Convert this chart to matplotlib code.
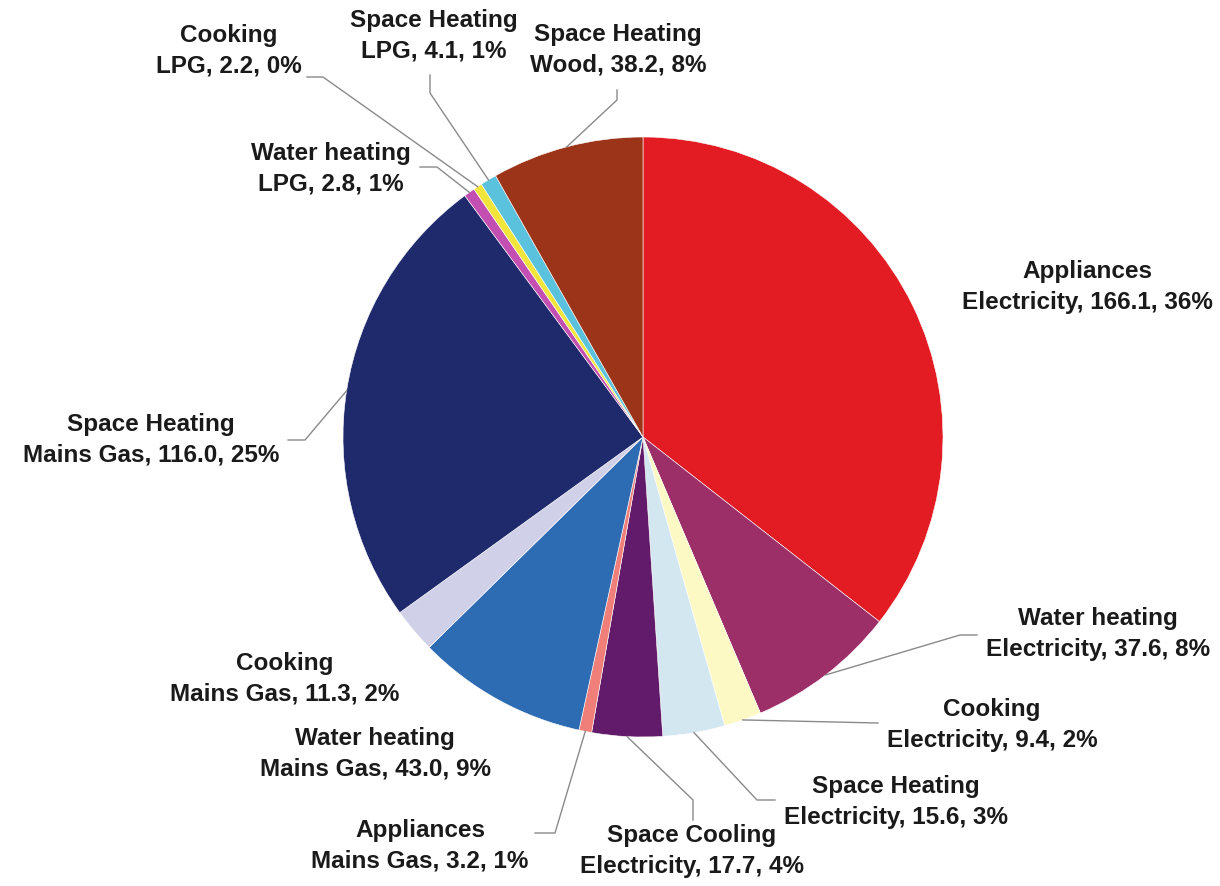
import numpy as np
import matplotlib.pyplot as plt

# end use / fuel, PJ
uses = ['Appliances', 'Water heating', 'Cooking', 'Space Heating', 'Space Cooling',
        'Appliances', 'Water heating', 'Cooking', 'Space Heating',
        'Water heating', 'Cooking', 'Space Heating', 'Space Heating']
fuels = ['Electricity', 'Electricity', 'Electricity', 'Electricity', 'Electricity',
         'Mains Gas', 'Mains Gas', 'Mains Gas', 'Mains Gas',
         'LPG', 'LPG', 'LPG', 'Wood']
values = [166.1, 37.6, 9.4, 15.6, 17.7, 3.2, 43.0, 11.3, 116.0, 2.8, 2.2, 4.1, 38.2]
colors = ['#e31b23', '#9c2f68', '#fdf9c4', '#d3e7f1', '#621b6b', '#f07f7a',
          '#2d6bb3', '#d0d0e8', '#1f2a6c', '#c24fb1', '#f1e53c', '#5bc2dd', '#9b3419']

W, H = 1220, 886
fig = plt.figure(figsize=(W / 100, H / 100), dpi=100)
ax = fig.add_axes([0, 0, 1, 1])

cx, cy, R = 643, H - 437, 300
wedges, _ = ax.pie(values, colors=colors, radius=R, center=(cx, cy), startangle=90,
                   counterclock=False, wedgeprops=dict(edgecolor='white', linewidth=0.4))
ax.set_xlim(0, W)
ax.set_ylim(0, H)
ax.set_aspect('equal')
ax.axis('off')

# label centres (pixels from top-left) and leader elbows, outer end first
label_pos = [(1087, 287), (1098, 634), (992, 725), (896, 802), (692, 851),
             (420, 846), (375, 754), (285, 679), (151, 440),
             (331, 169), (229, 51), (434, 36), (618, 50)]
leaders = [None, [(977, 635), (960, 635)], [(878, 723)], [(775, 800), (757, 800)],
           [(693, 820), (693, 800)], [(535, 833), (555, 833)], None, None,
           [(288, 440), (305, 440)], [(420, 167), (437, 167)], [(307, 77), (323, 77)],
           [(430, 75), (430, 93)], [(617, 90), (617, 100)]]

total = sum(values)
for w, u, f, v, pos, ld in zip(wedges, uses, fuels, values, label_pos, leaders):
    pct = round(v / total * 100)
    ax.text(pos[0], H - pos[1], f'{u}\n{f}, {v:.1f}, {pct}%', ha='center', va='center',
            fontsize=17.5, fontweight='bold', family='Liberation Sans',
            color='#1a1a1a', linespacing=1.4)
    if ld is not None:
        ang = np.deg2rad((w.theta1 + w.theta2) / 2)
        pts = [(x, H - y) for x, y in ld] + [(cx + R * np.cos(ang), cy + R * np.sin(ang))]
        xs, ys = zip(*pts)
        ax.plot(xs, ys, color='#8a8a8a', lw=1.0)

fig.savefig('out.png', dpi=100)
